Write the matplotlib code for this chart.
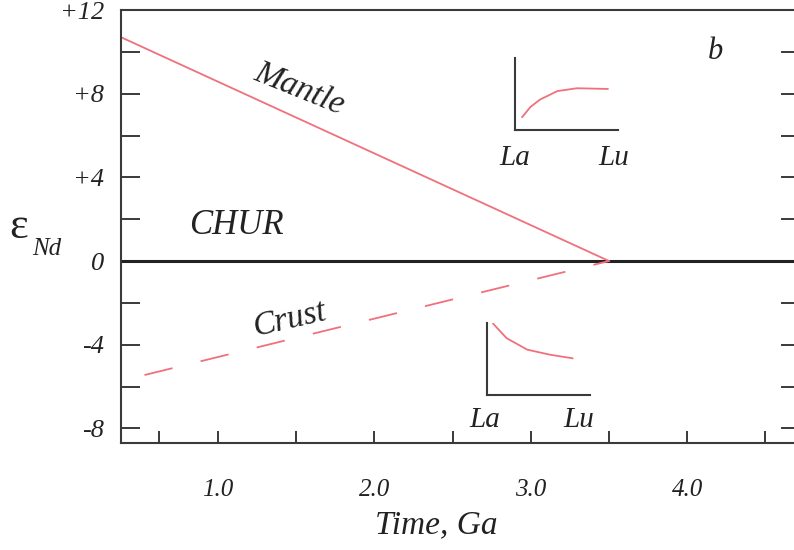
"""
epsilon Nd evolution of mantle and crust relative to CHUR
"""

import numpy as np
import matplotlib.pyplot as plt

plt.rcParams['font.family'] = ['Liberation Serif', 'DejaVu Serif']

#time (Ga) and epsilon Nd of the two reservoirs
mantle_t = [0.38, 3.5]
mantle_eps = [10.7, 0.0]
crust_t = [0.53, 3.5]
crust_eps = [-5.45, 0.0]
chur_t = [0.38, 4.75]
chur_eps = [0.0, 0.0]

#tick values
y_ticks = [12, 10, 8, 6, 4, 2, 0, -2, -4, -6, -8]
y_labels = ['+12', '', '+8', '', '+4', '', '0', '', '-4', '', '-8']
x_ticks = [0.62, 1.0, 1.5, 2.0, 2.5, 3.0, 3.5, 4.0, 4.5]
x_labels = ['', '1.0', '', '2.0', '', '3.0', '', '4.0', '']

#REE pattern sketches (fraction of inset box)
mantle_ree_x = [0.07, 0.15, 0.24, 0.41, 0.60, 0.90]
mantle_ree_y = [0.18, 0.32, 0.42, 0.54, 0.58, 0.57]
crust_ree_x = [0.06, 0.19, 0.39, 0.61, 0.83]
crust_ree_y = [0.99, 0.79, 0.63, 0.56, 0.51]

red = '#f0707c'
dark = '#3a3a3a'
ink = '#222222'

fig = plt.figure(figsize=(7.94, 5.5), dpi=100)
ax = fig.add_axes([0.1524, 0.1945, 0.855, 0.7873])

ax.plot(chur_t, chur_eps, color=ink, lw=2.2, solid_capstyle='butt')
ax.plot(mantle_t, mantle_eps, color=red, lw=1.3)
ax.plot(crust_t, crust_eps, color=red, lw=1.3, dashes=(16, 16))

ax.set_xlim(0.38, 4.72)
ax.set_ylim(-8.7, 12)

ax.set_yticks(y_ticks)
ax.set_yticklabels(y_labels, style='italic', fontsize=19, color=ink)
ax.set_xticks(x_ticks)
ax.set_xticklabels(x_labels, style='italic', fontsize=18, color=ink)
ax.tick_params(axis='y', direction='in', length=14, width=1.4, color=dark,
               right=True, pad=12)
ax.tick_params(axis='x', direction='in', length=9, width=1.4, color=dark,
               pad=26)
for s in ax.spines.values():
    s.set_linewidth(1.5)
    s.set_color(dark)

ax.set_xlabel('Time, Ga', style='italic', fontsize=24, color=ink)
ax.xaxis.set_label_coords(0.465, -0.155)
fig.text(0.012, 0.587, 'ε', fontsize=32, color=ink, ha='left', va='center')
fig.text(0.041, 0.547, 'Nd', fontsize=18, style='italic', color=ink,
         ha='left', va='center')

#curve labels
ax.text(1.52, 8.2, 'Mantle', rotation=-22, style='italic', fontsize=24,
        ha='center', va='center', color=ink)
ax.text(1.12, 1.7, 'CHUR', style='italic', fontsize=25,
        ha='center', va='center', color=ink)
ax.text(1.46, -2.8, 'Crust', rotation=13, style='italic', fontsize=24,
        ha='center', va='center', color=ink)
ax.text(4.18, 10.0, 'b', style='italic', fontsize=22,
        ha='center', va='center', color=ink)

#inset sketches of REE patterns
insets = [([515, 58, 103, 72], mantle_ree_x, mantle_ree_y, 0.0, 0.96, -0.39),
          ([487, 323, 103, 72], crust_ree_x, crust_ree_y, -0.02, 0.89, -0.35)]
for box, xs, ys, la_x, lu_x, lab_y in insets:
    x0, y0, w, h = box
    ins = fig.add_axes([x0 / 794, 1 - (y0 + h) / 550, w / 794, h / 550])
    ins.patch.set_alpha(0)
    ins.plot(xs, ys, color=red, lw=1.3)
    ins.set_xlim(0, 1)
    ins.set_ylim(0, 1)
    ins.set_xticks([])
    ins.set_yticks([])
    ins.spines['top'].set_visible(False)
    ins.spines['right'].set_visible(False)
    for s in ['left', 'bottom']:
        ins.spines[s].set_linewidth(1.5)
        ins.spines[s].set_color(dark)
    ins.text(la_x, lab_y, 'La', style='italic', fontsize=21, ha='center',
             va='center', transform=ins.transAxes, color=ink)
    ins.text(lu_x, lab_y, 'Lu', style='italic', fontsize=21, ha='center',
             va='center', transform=ins.transAxes, color=ink)

fig.savefig('out.png', dpi=100)
